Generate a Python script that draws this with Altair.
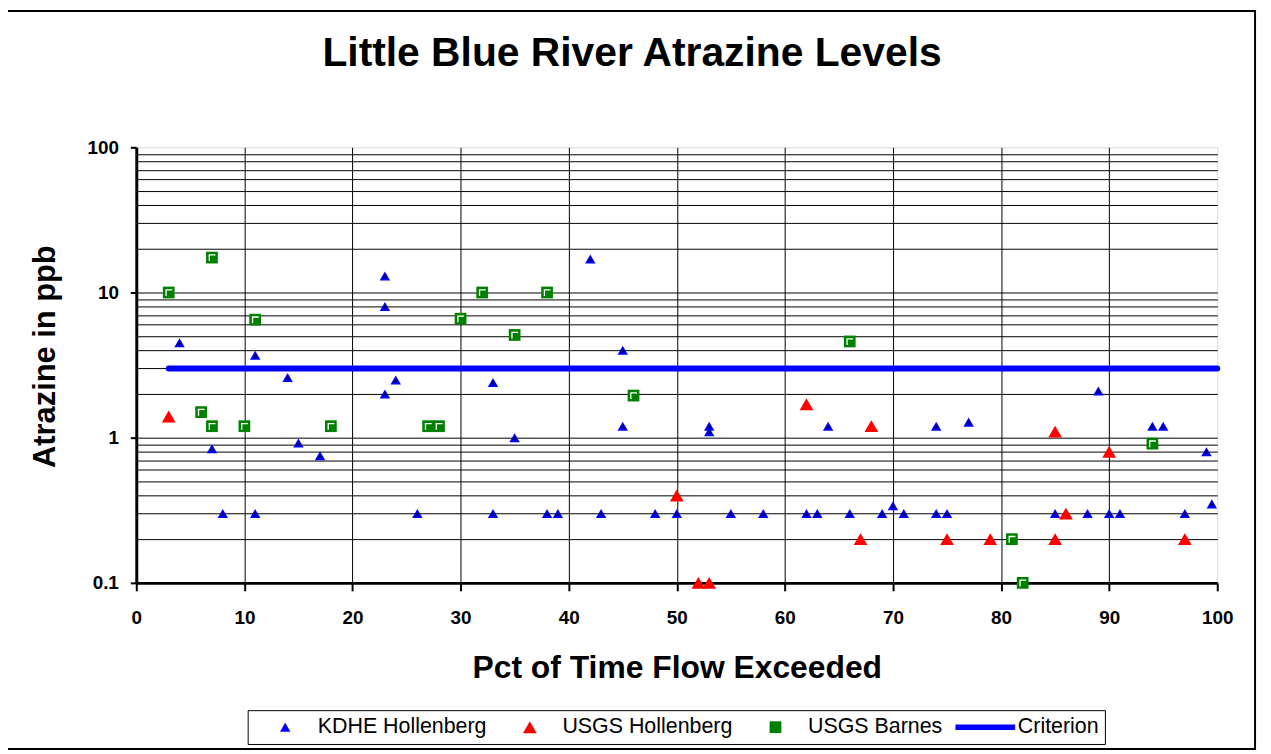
import altair as alt
import pandas as pd

FONT = "Liberation Sans"
SERIES = ["KDHE Hollenberg", "USGS Hollenberg", "USGS Barnes", "Criterion"]
COLORS = ["#0000ff", "#ff0000", "#008000", "#0000ff"]

kdhe_x = [4, 7, 8, 11, 11, 14, 15, 17, 23, 23, 23, 24, 26, 33, 33, 35, 38, 39,
          42, 43, 45, 45, 48, 50, 53, 53, 55, 58, 62, 63, 64, 66, 69, 70, 71,
          74, 74, 75, 77, 85, 88, 89, 90, 91, 94, 95, 97, 99, 99.5]
kdhe_y = [4.5, 0.84, 0.3, 3.7, 0.3, 2.6, 0.92, 0.75, 13, 8, 2.0, 2.5, 0.3, 2.4, 0.3, 1.0, 0.3, 0.3,
          17, 0.3, 4.0, 1.2, 0.3, 0.3, 1.2, 1.1, 0.3, 0.3, 0.3, 0.3, 1.2, 0.3, 0.3, 0.34, 0.3,
          1.2, 0.3, 0.3, 1.28, 0.3, 0.3, 2.1, 0.3, 0.3, 1.2, 1.2, 0.3, 0.8, 0.35]

usgs_h_x = [3, 50, 52, 53, 62, 67, 68, 75, 79, 85, 85, 86, 90, 97]
usgs_h_y = [1.4, 0.4, 0.1, 0.1, 1.7, 0.2, 1.2, 0.2, 0.2, 1.1, 0.2, 0.3, 0.8, 0.2]

barnes_x = [3, 6, 7, 7, 10, 11, 18, 27, 28, 30, 32, 35, 38, 46, 66, 81, 82, 94]
barnes_y = [10, 1.5, 17.4, 1.2, 1.2, 6.5, 1.2, 1.2, 1.2, 6.6, 10, 5.1, 10, 1.95, 4.6, 0.2, 0.1, 0.91]

criterion_x = [3, 100]
criterion_y = [3, 3]

x_ticks = [0, 10, 20, 30, 40, 50, 60, 70, 80, 90, 100]
y_grid = [0.1, 0.2, 0.3, 0.4, 0.5, 0.6, 0.7, 0.8, 0.9,
          1, 2, 3, 4, 5, 6, 7, 8, 9,
          10, 20, 30, 40, 50, 60, 70, 80, 90, 100]
y_labels = [0.1, 1, 10, 100]

points = pd.DataFrame({
    "pct": kdhe_x + usgs_h_x + barnes_x,
    "ppb": kdhe_y + usgs_h_y + barnes_y,
    "series": [SERIES[0]] * len(kdhe_x) + [SERIES[1]] * len(usgs_h_x) + [SERIES[2]] * len(barnes_x),
})
crit = pd.DataFrame({"pct": criterion_x, "ppb": criterion_y, "series": [SERIES[3]] * 2})

# symbol shapes (unit coords scaled by sqrt(size)/2); the leading lone move
# gives every legend entry the same left extent as the criterion line
SIZES = [110, 190, 140, 100]
TRI_BLUE = "M-5.7,0M0,-0.866L1,0.866L-1,0.866Z"
TRI_RED = "M-4.35,0M0,-0.866L1,0.866L-1,0.866Z"
SQUARE = "M-5.07,0M-1,-1H1V1H-1Z"
LINE_SYMBOL = "M-6,-0.55H6V0.55H-6Z"
CORNER = "M-0.45,0.6V-0.45H0.6"

label_test = " || ".join(f"datum.value == {v}" for v in y_labels)

x_enc = alt.X(
    "pct:Q",
    scale=alt.Scale(domain=[0, 100], nice=False, zero=False),
    axis=alt.Axis(
        values=x_ticks, format="d", title="Pct of Time Flow Exceeded",
        labelFont=FONT, labelFontSize=19, labelFontWeight="bold", labelColor="black",
        labelPadding=18, labelFlush=False, labelOverlap=False,
        tickColor="black", tickWidth=2, tickSize=8,
        domainColor="black", domainWidth=3,
        grid=True, gridColor="black", gridWidth=1,
        gridOpacity={"condition": {"test": "datum.value > 0 && datum.value < 100", "value": 1}, "value": 0},
        titleFont=FONT, titleFontSize=32, titleFontWeight="bold", titleColor="black",
        titleBaseline="alphabetic", titleY=95,
    ),
)
y_enc = alt.Y(
    "ppb:Q",
    scale=alt.Scale(type="log", domain=[0.1, 100], nice=False),
    axis=alt.Axis(
        values=y_grid, format="~g", title="Atrazine in ppb",
        labelExpr=f"({label_test}) ? datum.label : ''",
        labelFont=FONT, labelFontSize=19, labelFontWeight="bold", labelColor="black",
        labelPadding=12, labelOverlap=False, labelFlush=False,
        tickColor="black", tickWidth=2, tickSize=6,
        tickOpacity={"condition": {"test": label_test, "value": 1}, "value": 0},
        domainColor="black", domainWidth=3,
        grid=True, gridColor="black", gridWidth=1,
        gridOpacity={"condition": {"test": "datum.value > 0.1 && datum.value < 100", "value": 1}, "value": 0},
        titleFont=FONT, titleFontSize=31, titleFontWeight="bold", titleColor="black",
        titleBaseline="alphabetic", titleAngle=-90, titleX=-82, titleY=210,
    ),
)

legend = alt.Legend(
    orient="none", legendX=112, legendY=566, direction="horizontal", columns=4,
    title=" ", titleOrient="left", titleFontSize=1, titlePadding=21,
    labelFont=FONT, labelFontSize=21.5, labelColor="black", labelLimit=400,
    strokeColor="black", fillColor="white", padding=6, columnPadding=9,
    labelOffset=22, symbolOpacity=1,
)

border = alt.Chart(pd.DataFrame({"frame": [0]})).mark_rect(
    fillOpacity=0, stroke="black", strokeWidth=2, clip=False
).encode(x=alt.value(-130), x2=alt.value(1125), y=alt.value(-137), y2=alt.value(605))

crit_layer = alt.Chart(crit).mark_line(
    color="#0000ff", strokeWidth=6, strokeCap="round"
).encode(x=x_enc, y=y_enc)

point_layer = alt.Chart(points).mark_point(filled=True, opacity=1).encode(
    x=x_enc,
    y=y_enc,
    color=alt.Color("series:N", scale=alt.Scale(domain=SERIES, range=COLORS), legend=legend),
    shape=alt.Shape("series:N", scale=alt.Scale(domain=SERIES, range=[TRI_BLUE, TRI_RED, SQUARE, LINE_SYMBOL]), legend=legend),
    size=alt.Size("series:N", scale=alt.Scale(type="ordinal", domain=SERIES, range=SIZES), legend=legend),
)

kdhe_inner = alt.Chart(points).transform_filter(
    alt.datum.series == SERIES[0]
).mark_point(shape="triangle-up", filled=True, fill="#000080", size=26, opacity=1).encode(x=x_enc, y=y_enc)

barnes_corner = alt.Chart(points).transform_filter(
    alt.datum.series == SERIES[2]
).mark_point(shape=CORNER, filled=False, stroke="white", strokeWidth=1.3, size=140, opacity=1).encode(x=x_enc, y=y_enc)

chart = alt.layer(border, crit_layer, point_layer, kdhe_inner, barnes_corner).properties(
    width=1087, height=438,
    autosize="none",
    padding={"left": 129, "top": 138, "right": 46, "bottom": 170},
    title=alt.Title(
        "Little Blue River Atrazine Levels", font=FONT, fontSize=41, fontWeight="bold",
        color="black", anchor="middle", dx=-45, offset=-97, baseline="alphabetic",
    ),
).configure_view(stroke="#808080", strokeWidth=2).configure(background="white")

chart.save("out.html", embed_options={"renderer": "svg", "actions": False})
